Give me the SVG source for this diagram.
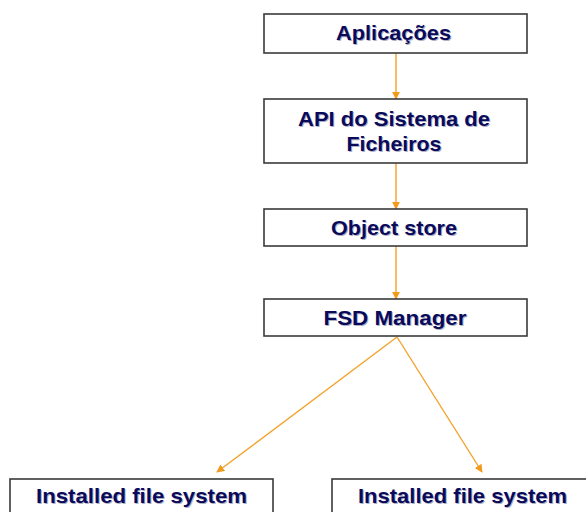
<svg xmlns="http://www.w3.org/2000/svg" width="586" height="512" viewBox="0 0 586 512">
  <style>
    .box { fill: #ffffff; stroke: #3a3a3a; stroke-width: 1.6; }
    .lbl { font-family: "Liberation Sans", Arial, sans-serif; font-weight: bold; font-size: 21px; fill: #0a0a5a; text-anchor: middle; }
    .shd { font-family: "Liberation Sans", Arial, sans-serif; font-weight: bold; font-size: 21px; fill: #b0b0c4; text-anchor: middle; }
    .link { stroke: #f2a22a; stroke-width: 1.4; fill: none; marker-end: url(#tip); }
  </style>
  <defs>
    <marker id="tip" viewBox="0 0 10 10" refX="9" refY="5" markerWidth="8" markerHeight="8" markerUnits="userSpaceOnUse" orient="auto">
      <path d="M0,0 L10,5 L0,10 Z" fill="#f29a1c"/>
    </marker>
  </defs>
  <rect width="586" height="512" fill="#ffffff"/>

  <g id="connectors">
    <line class="link" x1="396" y1="53" x2="396" y2="99"/>
    <line class="link" x1="396" y1="163" x2="396" y2="209"/>
    <line class="link" x1="396" y1="246" x2="396" y2="299"/>
    <line class="link" x1="397" y1="337" x2="217" y2="472"/>
    <line class="link" x1="397" y1="337" x2="482" y2="472"/>
  </g>

  <g id="aplicacoes">
    <rect class="box" x="264" y="14" width="263" height="39"/>
    <text class="shd" x="394.5" y="40.5" textLength="115" lengthAdjust="spacingAndGlyphs">Aplicações</text>
    <text class="lbl" x="393.5" y="39.5" textLength="115" lengthAdjust="spacingAndGlyphs">Aplicações</text>
  </g>

  <g id="api">
    <rect class="box" x="264" y="99" width="263" height="64"/>
    <text class="shd" x="395" y="127" textLength="192" lengthAdjust="spacingAndGlyphs">API do Sistema de</text>
    <text class="lbl" x="394" y="126" textLength="192" lengthAdjust="spacingAndGlyphs">API do Sistema de</text>
    <text class="shd" x="395" y="151.5" textLength="95" lengthAdjust="spacingAndGlyphs">Ficheiros</text>
    <text class="lbl" x="394" y="150.5" textLength="95" lengthAdjust="spacingAndGlyphs">Ficheiros</text>
  </g>

  <g id="object-store">
    <rect class="box" x="264" y="209" width="263" height="37"/>
    <text class="shd" x="395" y="236" textLength="126" lengthAdjust="spacingAndGlyphs">Object store</text>
    <text class="lbl" x="394" y="235" textLength="126" lengthAdjust="spacingAndGlyphs">Object store</text>
  </g>

  <g id="fsd-manager">
    <rect class="box" x="264" y="299" width="263" height="37"/>
    <text class="shd" x="396" y="325.5" textLength="143" lengthAdjust="spacingAndGlyphs">FSD Manager</text>
    <text class="lbl" x="395" y="324.5" textLength="143" lengthAdjust="spacingAndGlyphs">FSD Manager</text>
  </g>

  <g id="installed-fs-left">
    <rect class="box" x="10" y="479" width="263" height="45"/>
    <text class="shd" x="142.5" y="504" textLength="211" lengthAdjust="spacingAndGlyphs">Installed file system</text>
    <text class="lbl" x="141.5" y="503" textLength="211" lengthAdjust="spacingAndGlyphs">Installed file system</text>
  </g>

  <g id="installed-fs-right">
    <rect class="box" x="332" y="479" width="263" height="45"/>
    <text class="shd" x="463.5" y="504" textLength="209" lengthAdjust="spacingAndGlyphs">Installed file system</text>
    <text class="lbl" x="462.5" y="503" textLength="209" lengthAdjust="spacingAndGlyphs">Installed file system</text>
  </g>
</svg>
